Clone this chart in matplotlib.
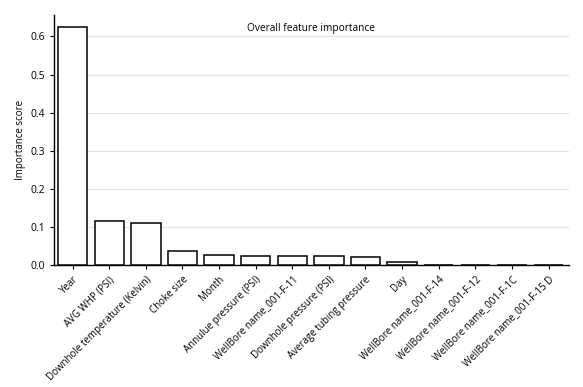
import matplotlib
matplotlib.use("Agg")
import matplotlib.pyplot as plt

features = ["Year", "AVG WHP (PSI)", "Downhole temperature (Kelvin)", "Choke size",
            "Month", "Annulue pressure (PSI)", "WellBore name_001-F-11",
            "Downhole pressure (PSI)", "Average tubing pressure", "Day",
            "WellBore name_001-F-14", "WellBore name_001-F-12",
            "WellBore name_001-F-1C", "WellBore name_001-F-15 D"]
importance = [0.625, 0.117, 0.110, 0.036, 0.027, 0.025, 0.025, 0.023, 0.020, 0.007,
              0.0, 0.0, 0.0, 0.0]
yticks = [0.0, 0.1, 0.2, 0.3, 0.4, 0.5, 0.6]

plt.rcParams['font.family'] = ['Open Sans', 'DejaVu Sans']
fig = plt.figure(figsize=(5.83, 3.87), dpi=100)
ax = fig.add_axes([0.0926, 0.315, 0.8834, 0.646])
x = list(range(len(features)))
ax.bar(x, importance, width=0.8, color="white", edgecolor="black", linewidth=1.1, zorder=3)
ax.set_xlim(-0.51, 13.56)
ax.set_ylim(0, 0.656)
ax.set_yticks(yticks)
ax.set_yticklabels([f"{v:.1f}" for v in yticks], fontsize=7.5)
ax.yaxis.grid(True, color="#e3e3e3", linewidth=0.8, zorder=0)
ax.set_axisbelow(True)
ax.set_xticks(x)
ax.set_xticklabels(features, rotation=45, ha="right", rotation_mode="anchor", fontsize=7)
ax.tick_params(axis="both", direction="out", length=3, width=0.8)
for s in ["top", "right"]:
    ax.spines[s].set_visible(False)
ax.spines["left"].set_linewidth(1.0)
ax.spines["bottom"].set_linewidth(1.0)
ax.set_ylabel("Importance score", fontsize=7, labelpad=3)
ax.set_title("Overall feature importance", fontsize=7.3, y=0.935, pad=0)
fig.savefig("out.png", dpi=100)
